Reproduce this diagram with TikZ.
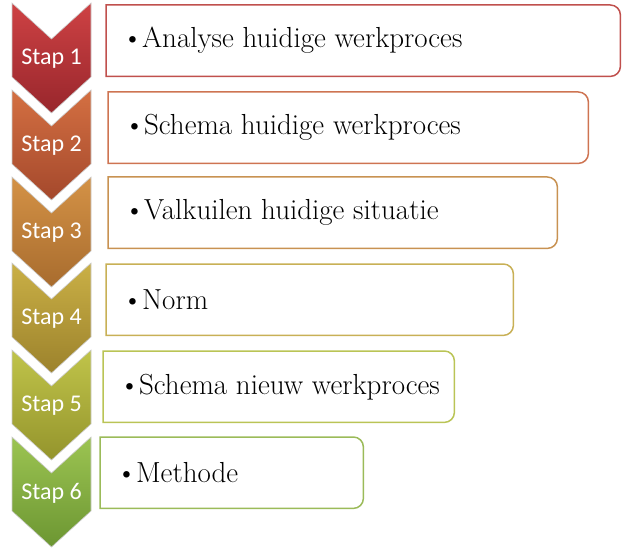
\documentclass[tikz,border=0pt]{standalone}
\usepackage{fontspec}
\newfontfamily\stapfont{Carlito}
\usetikzlibrary{positioning}

\definecolor{red1}{RGB}{206,66,68}   \definecolor{red2}{RGB}{152,38,44}
\definecolor{ora1}{RGB}{212,112,66}  \definecolor{ora2}{RGB}{164,72,44}
\definecolor{amb1}{RGB}{212,146,70}  \definecolor{amb2}{RGB}{168,108,46}
\definecolor{mus1}{RGB}{202,176,70}  \definecolor{mus2}{RGB}{156,130,44}
\definecolor{lim1}{RGB}{192,196,74}  \definecolor{lim2}{RGB}{148,148,44}
\definecolor{grn1}{RGB}{156,196,82}  \definecolor{grn2}{RGB}{108,150,50}
\definecolor{rim1}{RGB}{192,80,77}   \definecolor{rim2}{RGB}{206,116,82}
\definecolor{rim3}{RGB}{200,146,82}  \definecolor{rim4}{RGB}{200,176,86}
\definecolor{rim5}{RGB}{186,196,86}  \definecolor{rim6}{RGB}{155,187,89}

% box with rounded corners on the right only
\newcommand{\rimbox}[2]{\draw[line width=1.5pt,#2] (#1.north west) -- ([xshift=-10pt]#1.north east)
  arc[start angle=90,end angle=0,radius=10pt] -- ([yshift=10pt]#1.south east)
  arc[start angle=0,end angle=-90,radius=10pt] -- (#1.south west) -- cycle;}

\begin{document}
\begin{tikzpicture}[x=1pt,y=-1pt]
\tikzstyle{chev}=[draw=white!60!gray, line width=0.6pt]
\tikzstyle{stap}=[text=white, font=\stapfont\fontsize{24}{28}\selectfont]
\tikzstyle{frame}=[anchor=north west, minimum height=71pt, inner sep=0pt]
\tikzstyle{item}=[font=\fontsize{29}{34}\selectfont, inner sep=0pt]
\useasboundingbox (0,0) rectangle (626,548);

\shade[chev, top color=red1, bottom color=red2] (12,3) -- (51.5,39) -- (91,3) -- (91,77) -- (51.5,113) -- (12,77) -- cycle;
\shade[chev, top color=ora1, bottom color=ora2] (12,90) -- (51.5,126) -- (91,90) -- (91,164) -- (51.5,200) -- (12,164) -- cycle;
\shade[chev, top color=amb1, bottom color=amb2] (12,177) -- (51.5,213) -- (91,177) -- (91,251) -- (51.5,287) -- (12,251) -- cycle;
\shade[chev, top color=mus1, bottom color=mus2] (12,263) -- (51.5,299) -- (91,263) -- (91,337) -- (51.5,373) -- (12,337) -- cycle;
\shade[chev, top color=lim1, bottom color=lim2] (12,350) -- (51.5,386) -- (91,350) -- (91,424) -- (51.5,460) -- (12,424) -- cycle;
\shade[chev, top color=grn1, bottom color=grn2] (12,437) -- (51.5,473) -- (91,437) -- (91,511) -- (51.5,547) -- (12,511) -- cycle;

\node[stap] (s1) at (51.5,59) {Stap 1};
\node[stap] (s2) at (51.5,146) {Stap 2};
\node[stap] (s3) at (51.5,233) {Stap 3};
\node[stap] (s4) at (51.5,319) {Stap 4};
\node[stap] (s5) at (51.5,406) {Stap 5};
\node[stap] (s6) at (51.5,493) {Stap 6};

\node[frame, minimum width=514pt] (b1) at (106,5) {};
\node[frame, minimum width=480pt] (b2) at (108,92) {};
\node[frame, minimum width=449pt] (b3) at (108,177) {};
\node[frame, minimum width=407pt] (b4) at (106,264) {};
\node[frame, minimum width=351pt] (b5) at (103,351) {};
\node[frame, minimum width=263pt] (b6) at (100,437) {};
\rimbox{b1}{rim1}
\rimbox{b2}{rim2}
\rimbox{b3}{rim3}
\rimbox{b4}{rim4}
\rimbox{b5}{rim5}
\rimbox{b6}{rim6}

\node[item, right=16pt of b1.west] (t1) {\textbullet\hspace{-1pt}Analyse huidige werkproces};
\node[item, right=16pt of b2.west] (t2) {\textbullet\hspace{-1pt}Schema huidige werkproces};
\node[item, right=16pt of b3.west] (t3) {\textbullet\hspace{-1pt}Valkuilen huidige situatie};
\node[item, right=16pt of b4.west] (t4) {\textbullet\hspace{-1pt}Norm};
\node[item, right=16pt of b5.west] (t5) {\textbullet\hspace{-1pt}Schema nieuw werkproces};
\node[item, right=16pt of b6.west] (t6) {\textbullet\hspace{-1pt}Methode};
\end{tikzpicture}
\end{document}
